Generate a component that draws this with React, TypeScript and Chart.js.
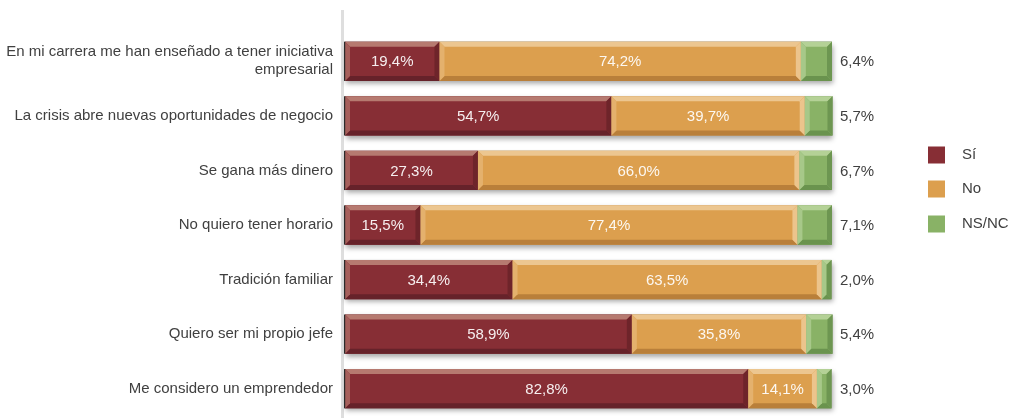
import React, { useEffect, useRef } from "react";
import { Chart, registerables } from "chart.js";

Chart.register(...registerables);

const categories: (string | string[])[] = [
  ["En mi carrera me han enseñado a tener iniciativa", "empresarial"],
  "La crisis abre nuevas oportunidades de negocio",
  "Se gana más dinero",
  "No quiero tener horario",
  "Tradición familiar",
  "Quiero ser mi propio jefe",
  "Me considero un emprendedor",
];
const siValues = [19.4, 54.7, 27.3, 15.5, 34.4, 58.9, 82.8];
const noValues = [74.2, 39.7, 66.0, 77.4, 63.5, 35.8, 14.1];
const nsncValues = [6.4, 5.7, 6.7, 7.1, 2.0, 5.4, 3.0];
const seriesNames = ["Sí", "No", "NS/NC"];

const palette = [
  { base: "#872e35", top: "#b67a70", left: "#a65f5b", right: "#6e242a", bottom: "#66222a" },
  { base: "#dc9f4e", top: "#ecc690", left: "#e4b16d", right: "#ecc48c", bottom: "#b97f3a" },
  { base: "#89b266", top: "#b4d196", left: "#a7c889", right: "#6d9651", bottom: "#6a934e" },
];

const FONT = "'Liberation Sans', Arial, Helvetica, sans-serif";
const TEXT = "#404040";
const fmt = (v: number) => v.toFixed(1).replace(".", ",") + "%";

const bevelPlugin = {
  id: "bevel",
  beforeDatasetsDraw(chart: any) {
    const ctx = chart.ctx;
    const area = chart.chartArea;
    ctx.save();
    ctx.fillStyle = "#dedede";
    ctx.fillRect(area.left - 4, 10, 3, chart.height - 10);
    const m0 = chart.getDatasetMeta(0);
    const mL = chart.getDatasetMeta(chart.data.datasets.length - 1);
    m0.data.forEach((el: any, i: number) => {
      const p = el.getProps(["x", "y", "base", "height"], true);
      const pl = mL.data[i].getProps(["x"], true);
      const T = p.y - p.height / 2;
      ctx.save();
      ctx.shadowColor = "rgba(0,0,0,0.35)";
      ctx.shadowBlur = 5;
      ctx.shadowOffsetY = 3;
      ctx.shadowOffsetX = 1;
      ctx.fillStyle = "#888";
      ctx.fillRect(p.base, T, pl.x - p.base, p.height);
      ctx.restore();
    });
    ctx.restore();
  },
  afterDatasetsDraw(chart: any) {
    const ctx = chart.ctx;
    ctx.save();
    chart.data.datasets.forEach((ds: any, di: number) => {
      const meta = chart.getDatasetMeta(di);
      const c = palette[di];
      meta.data.forEach((el: any) => {
        const p = el.getProps(["x", "y", "base", "height"], true);
        const L = Math.min(p.base, p.x);
        const R = Math.max(p.base, p.x);
        const T = p.y - p.height / 2;
        const B = p.y + p.height / 2;
        const b = Math.min(5, (R - L) / 2);
        const poly = (pts: number[][], col: string) => {
          ctx.beginPath();
          ctx.moveTo(pts[0][0], pts[0][1]);
          for (let k = 1; k < pts.length; k++) ctx.lineTo(pts[k][0], pts[k][1]);
          ctx.closePath();
          ctx.fillStyle = col;
          ctx.fill();
        };
        poly([[L, T], [R, T], [R - b, T + b], [L + b, T + b]], c.top);
        poly([[L, B], [R, B], [R - b, B - b], [L + b, B - b]], c.bottom);
        poly([[L, T], [L + b, T + b], [L + b, B - b], [L, B]], c.left);
        poly([[R, T], [R - b, T + b], [R - b, B - b], [R, B]], c.right);
      });
    });
    const m0 = chart.getDatasetMeta(0);
    m0.data.forEach((el: any) => {
      const p = el.getProps(["y", "base", "height"], true);
      ctx.fillStyle = "#2b2b2b";
      ctx.fillRect(p.base - 1, p.y - p.height / 2, 1.2, p.height);
    });
    ctx.font = `15px ${FONT}`;
    ctx.textBaseline = "middle";
    chart.data.datasets.forEach((ds: any, di: number) => {
      const meta = chart.getDatasetMeta(di);
      meta.data.forEach((el: any, i: number) => {
        const p = el.getProps(["x", "y", "base"], true);
        const v = ds.data[i];
        if (di < 2) {
          ctx.fillStyle = "rgba(255,255,255,0.92)";
          ctx.textAlign = "center";
          ctx.fillText(fmt(v), (p.x + p.base) / 2, p.y + 1);
        } else {
          ctx.fillStyle = TEXT;
          ctx.textAlign = "left";
          ctx.fillText(fmt(v), chart.chartArea.right + 8, p.y + 1);
        }
      });
    });
    const ly = [155, 189, 224];
    seriesNames.forEach((name, i) => {
      ctx.fillStyle = palette[i].base;
      ctx.fillRect(928, ly[i] - 8.5, 17, 17);
      ctx.fillStyle = TEXT;
      ctx.textAlign = "left";
      ctx.fillText(name, 962, ly[i]);
    });
    ctx.restore();
  },
};

export default function App() {
  const ref = useRef<HTMLCanvasElement>(null);
  useEffect(() => {
    if (!ref.current) return;
    const datasets = [siValues, noValues, nsncValues].map((d, i) => ({
      label: seriesNames[i],
      data: d,
      backgroundColor: palette[i].base,
      borderWidth: 0,
      barPercentage: 0.72,
      categoryPercentage: 1,
      clip: false as any,
    }));
    const chart = new Chart(ref.current, {
      type: "bar",
      data: { labels: categories, datasets },
      options: {
        indexAxis: "y",
        animation: false,
        responsive: true,
        maintainAspectRatio: false,
        layout: { padding: { left: 0, right: 181, top: 34, bottom: 2 } },
        plugins: { legend: { display: false }, tooltip: { enabled: false } },
        scales: {
          x: { stacked: true, min: 0, max: 100, display: false },
          y: {
            stacked: true,
            grid: { display: false, drawTicks: false },
            border: { display: false },
            ticks: { color: TEXT, font: { family: FONT, size: 15 }, padding: 12 },
            afterFit: (s: any) => {
              s.width = 345;
              s.paddingTop = 0;
              s.paddingBottom = 0;
            },
          },
        },
      },
      plugins: [bevelPlugin],
    });
    return () => chart.destroy();
  }, []);
  return (
    <div style={{ position: "fixed", left: 0, top: 0, width: 1013, height: 418, background: "#fff" }}>
      <canvas ref={ref} />
    </div>
  );
}
